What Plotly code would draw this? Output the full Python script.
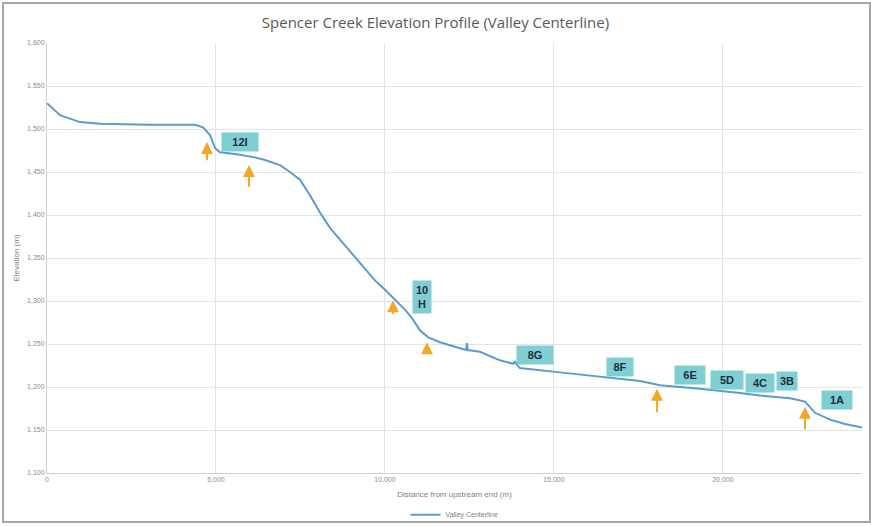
import plotly.graph_objects as go

# Valley centerline profile: distance from upstream end (m) and elevation (m)
distance_m = [0, 385, 976, 1568, 3048, 4379, 4616, 4823, 4971, 5118, 5563, 6154,
              6450, 6894, 7190, 7486, 7781, 8077, 8373, 8817, 9260, 9704, 10000,
              10297, 10592, 10800, 11036, 11272, 11627, 12219, 12400, 12427, 12450,
              12811, 13403, 13800, 13847, 13900, 13996, 15180, 16363, 17547, 18139,
              19322, 20506, 21098, 21986, 22429, 22725, 23169, 23613, 24116]
elevation_m = [1530, 1516, 1508, 1506, 1505, 1505, 1502, 1493, 1478, 1473, 1471, 1467,
               1464, 1458, 1450, 1441, 1423, 1403, 1385, 1365, 1345, 1324, 1313,
               1301, 1290, 1280, 1266, 1258, 1252, 1245, 1243, 1251, 1243,
               1241, 1231, 1227, 1230, 1226, 1222, 1217, 1212, 1207, 1202,
               1198, 1193, 1190, 1187, 1183, 1170, 1162, 1157, 1153]

# Reach labels
reach_labels = ["12I", "10<br>H", "8G", "8F", "6E", "5D", "4C", "3B", "1A"]
reach_x = [5711, 11096, 14440, 16955, 19026, 20121, 21098, 21897, 23376]
reach_y = [1485, 1305, 1237, 1223, 1214, 1208, 1205, 1207, 1185]
reach_box_w = [30, 12, 30, 20, 24, 26, 22, 14, 24]

# Reach break markers (arrow tip and tail)
break_x = [4734, 5977, 10238, 11244, 18050, 22429]
break_tip = [1485, 1458, 1301, 1252, 1198, 1177]
break_tail = [1462, 1431, 1283, 1239, 1169, 1149]

x_ticks = [0, 5000, 10000, 15000, 20000]
y_ticks = list(range(1100, 1601, 50))

fig = go.Figure()
fig.add_trace(go.Scatter(
    x=distance_m, y=elevation_m, mode="lines", name="Valley Centerline",
    line=dict(color="#5b9bd5", width=2),
))

for bx, tip, tail in zip(break_x, break_tip, break_tail):
    fig.add_annotation(
        x=bx, y=tip, ax=bx, ay=tail, xref="x", yref="y", axref="x", ayref="y",
        text="", showarrow=True, arrowhead=2, arrowsize=1.2, arrowwidth=2,
        arrowcolor="#f5a623",
    )

for lab, lx, ly, bw in zip(reach_labels, reach_x, reach_y, reach_box_w):
    fig.add_annotation(
        x=lx, y=ly, xref="x", yref="y", text=f"<b>{lab}</b>", showarrow=False,
        width=bw, align="center",
        font=dict(family="Arial, Liberation Sans", size=11, color="#1f2d3d"),
        bgcolor="#7fcfd2", borderpad=3,
    )

# Outer chart frame
fig.add_shape(type="rect", xref="paper", yref="paper", layer="below",
              x0=-0.054, x1=1.0098, y0=-0.114, y1=1.093,
              line=dict(color="#a6a6a6", width=2))

fig.update_layout(
    width=871, height=526,
    margin=dict(l=47, r=9, t=43, b=53, autoexpand=False),
    paper_bgcolor="white", plot_bgcolor="white",
    title=dict(text="Spencer Creek Elevation Profile (Valley Centerline)",
               x=0.5, xanchor="center", y=0.956, yanchor="middle",
               font=dict(family="Open Sans, Liberation Sans", size=15, color="#595959")),
    font=dict(family="Liberation Sans, Arial", color="#7f7f7f"),
    showlegend=True,
    legend=dict(orientation="h", x=0.5, xanchor="center", y=-0.097, yanchor="middle",
                bgcolor="rgba(0,0,0,0)",
                font=dict(size=7, color="#7f7f7f")),
)
fig.update_xaxes(
    range=[0, 24116], tickvals=x_ticks, tickformat=",d",
    showgrid=True, gridcolor="#e3e3e3", zeroline=False,
    showline=True, linecolor="#d0d0d0", automargin=False,
    tickfont=dict(size=7, color="#8c8c8c"),
    title=dict(text="Distance from upstream end (m)", font=dict(size=8, color="#7f7f7f"),
               standoff=8),
)
fig.update_yaxes(
    range=[1100, 1600], tickvals=y_ticks, tickformat=",d",
    showgrid=True, gridcolor="#e3e3e3", zeroline=False,
    showline=True, linecolor="#d0d0d0", automargin=False,
    tickfont=dict(size=7, color="#8c8c8c"),
    title=dict(text="Elevation (m)", font=dict(size=8, color="#7f7f7f"), standoff=6),
)

fig.write_html("out.html")
